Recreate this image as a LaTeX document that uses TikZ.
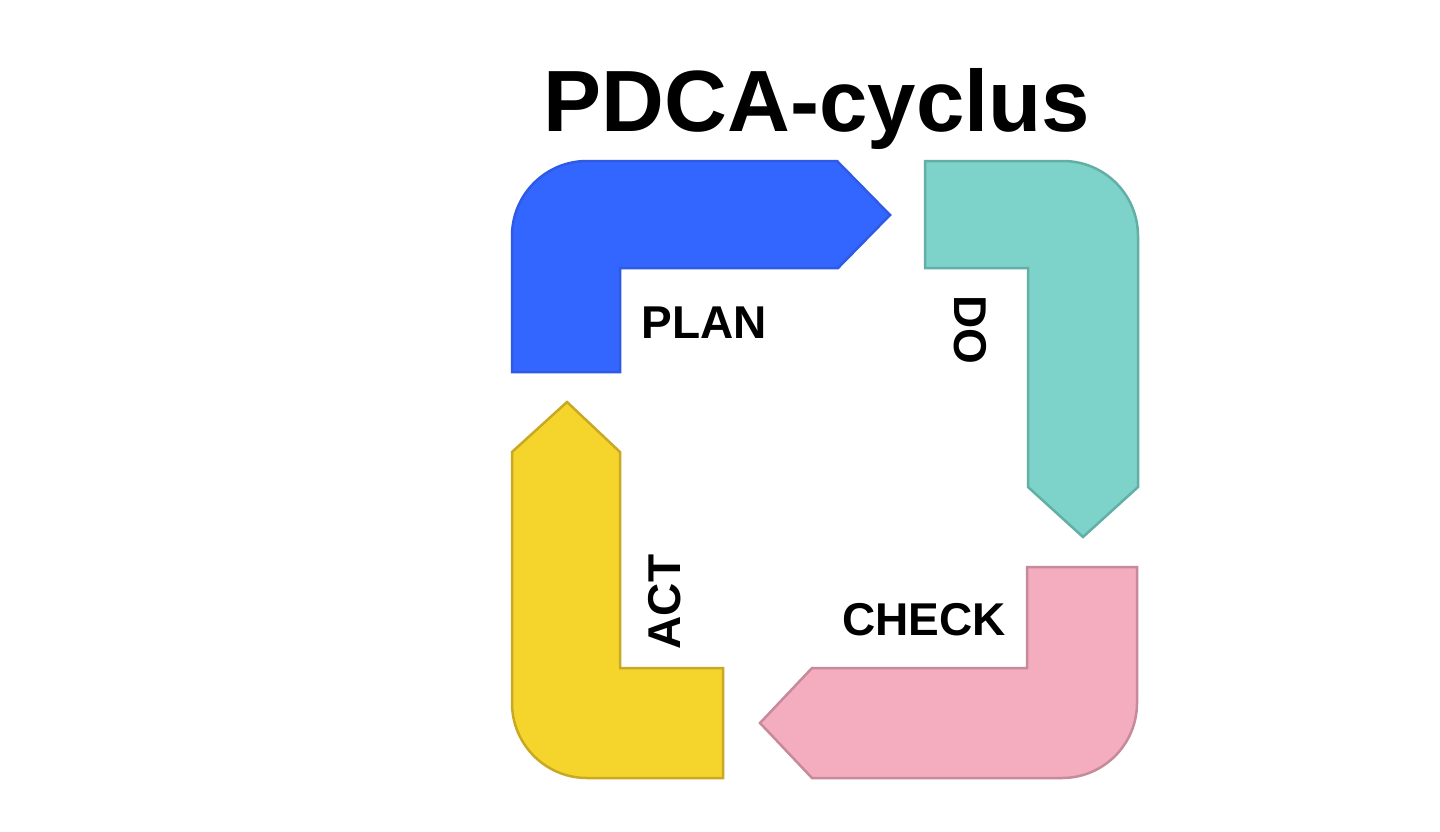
\documentclass[tikz,border=0pt]{standalone}
\usepackage{fontspec}
\setmainfont{Liberation Sans}
\begin{document}
\begin{tikzpicture}[x=1pt,y=-1pt,
  band/.style={line width=2.5pt, line join=miter},
  lbl/.style={font=\fontsize{46}{50}\selectfont\bfseries, text=black, inner sep=0pt}]
\definecolor{planblue}{HTML}{3366FF}
\definecolor{planedge}{HTML}{2E5AE6}
\definecolor{doteal}{HTML}{7DD3C9}
\definecolor{doedge}{HTML}{62AFA5}
\definecolor{chkpink}{HTML}{F4ADBF}
\definecolor{chkedge}{HTML}{C68A9A}
\definecolor{actyel}{HTML}{F5D52C}
\definecolor{actedge}{HTML}{C9A924}
\useasboundingbox (0,0) rectangle (1440,831);
\fill[white] (0,0) rectangle (1440,831);
% title
\node[font=\fontsize{87}{95}\selectfont\bfseries, anchor=base, inner sep=0pt] (title) at (817,131) {PDCA-cyclus};
% PLAN
\path[band, fill=planblue, draw=planedge] (512,372) -- (512,236) arc[start angle=180,end angle=90,radius=75pt]
  -- (837,161) -- (890,215) -- (838,268) -- (620,268) -- (620,372) -- cycle;
% DO
\path[band, fill=doteal, draw=doedge] (925,161) -- (1063,161) arc[start angle=90,end angle=0,radius=75pt]
  -- (1138,487) -- (1083,537) -- (1028,487) -- (1028,268) -- (925,268) -- cycle;
% CHECK
\path[band, fill=chkpink, draw=chkedge] (1137,567) -- (1137,703) arc[start angle=0,end angle=-90,radius=75pt]
  -- (812,778) -- (760,723) -- (812,668) -- (1027,668) -- (1027,567) -- cycle;
% ACT
\path[band, fill=actyel, draw=actedge] (723,778) -- (587,778) arc[start angle=270,end angle=180,radius=75pt]
  -- (512,452) -- (567,402) -- (620,452) -- (620,668) -- (723,668) -- cycle;
% labels
\node[lbl] (plan) at (704,323) {PLAN};
\node[lbl, rotate=-90] (do) at (970,330) {DO};
\node[lbl] (check) at (924,620) {CHECK};
\node[lbl, rotate=90] (act) at (665,602) {ACT};
\end{tikzpicture}
\end{document}
